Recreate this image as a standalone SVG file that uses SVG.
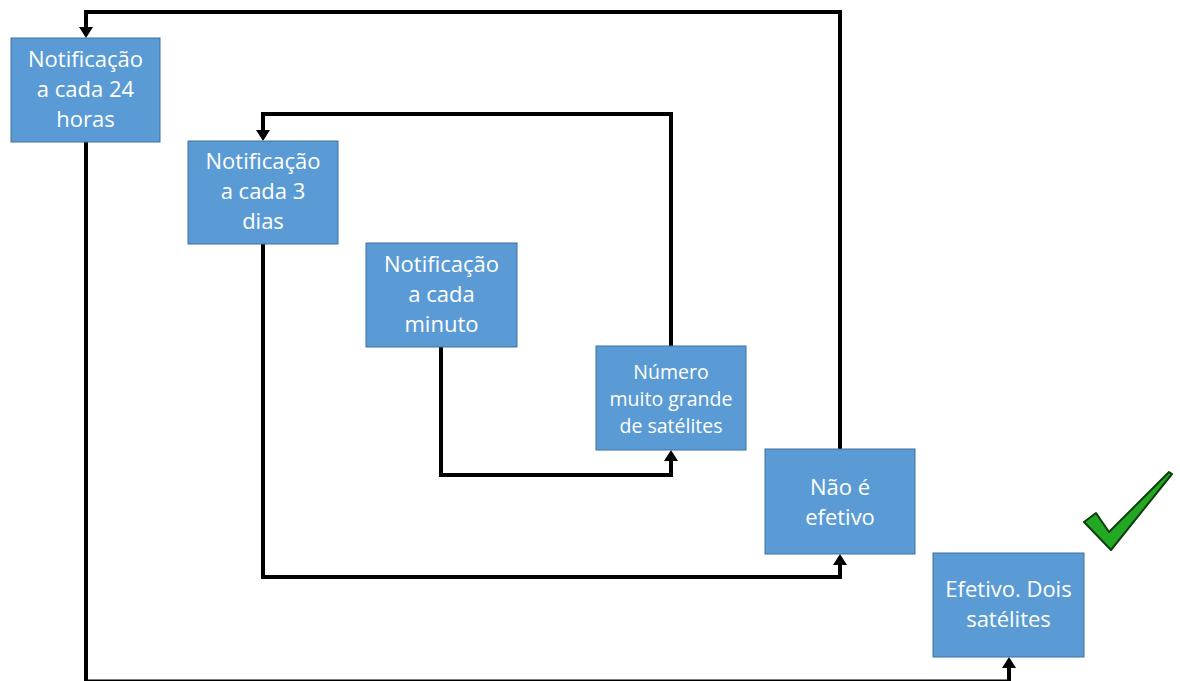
<svg xmlns="http://www.w3.org/2000/svg" width="1180" height="681" viewBox="0 0 1180 681">
  <style>
    .box { fill: #5B9BD5; stroke: #41719C; stroke-width: 1; }
    .t { font-family: "Open Sans", "Liberation Sans", sans-serif; font-size: 22px; fill: #FFFFFF; text-anchor: middle; }
    .ts { font-size: 19.5px; }
    .conn { fill: none; stroke: #000000; stroke-width: 4; stroke-linejoin: miter; }
  </style>
  <defs>
    <marker id="arr" viewBox="0 0 11 14" refX="0" refY="7" markerWidth="11" markerHeight="14" markerUnits="userSpaceOnUse" orient="auto">
      <path d="M0,0 L11,7 L0,14 z" fill="#000000"/>
    </marker>
  </defs>
  <g id="connectors">
    <path class="conn" d="M840,449 V12 H86 V27" marker-end="url(#arr)"/>
    <path class="conn" d="M671,346 V114 H263 V130" marker-end="url(#arr)"/>
    <path class="conn" d="M441,347 V475 H671 V461" marker-end="url(#arr)"/>
    <path class="conn" d="M263,244 V577 H840 V565" marker-end="url(#arr)"/>
    <path class="conn" d="M86,142 V681.5 H1009 V668" marker-end="url(#arr)"/>
  </g>
  <g id="node-24h">
    <rect class="box" x="11" y="38" width="149" height="104"/>
    <text class="t" x="85.5" y="67">Notificação</text>
    <text class="t" x="85.5" y="97">a cada 24</text>
    <text class="t" x="85.5" y="127">horas</text>
  </g>
  <g id="node-3dias">
    <rect class="box" x="188" y="141" width="150" height="103"/>
    <text class="t" x="263" y="169">Notificação</text>
    <text class="t" x="263" y="199">a cada 3</text>
    <text class="t" x="263" y="229">dias</text>
  </g>
  <g id="node-minuto">
    <rect class="box" x="366" y="243" width="151" height="104"/>
    <text class="t" x="441.5" y="272">Notificação</text>
    <text class="t" x="441.5" y="302">a cada</text>
    <text class="t" x="441.5" y="332">minuto</text>
  </g>
  <g id="node-numero">
    <rect class="box" x="596" y="346" width="150" height="104"/>
    <text class="t ts" x="671" y="379">Número</text>
    <text class="t ts" x="671" y="406">muito grande</text>
    <text class="t ts" x="671" y="433">de satélites</text>
  </g>
  <g id="node-nao">
    <rect class="box" x="765" y="449" width="150" height="105"/>
    <text class="t" x="840" y="495">Não é</text>
    <text class="t" x="840" y="525">efetivo</text>
  </g>
  <g id="node-efetivo">
    <rect class="box" x="933" y="553" width="151" height="104"/>
    <text class="t" x="1008.5" y="597">Efetivo. Dois</text>
    <text class="t" x="1008.5" y="627">satélites</text>
  </g>
  <g id="checkmark">
    <path d="M1084,522 L1096,513 L1109,532 L1169,472 L1172,474 L1111,550 Z" fill="#22A822" stroke="#0E3D0E" stroke-width="2" stroke-linejoin="round"/>
  </g>
</svg>
